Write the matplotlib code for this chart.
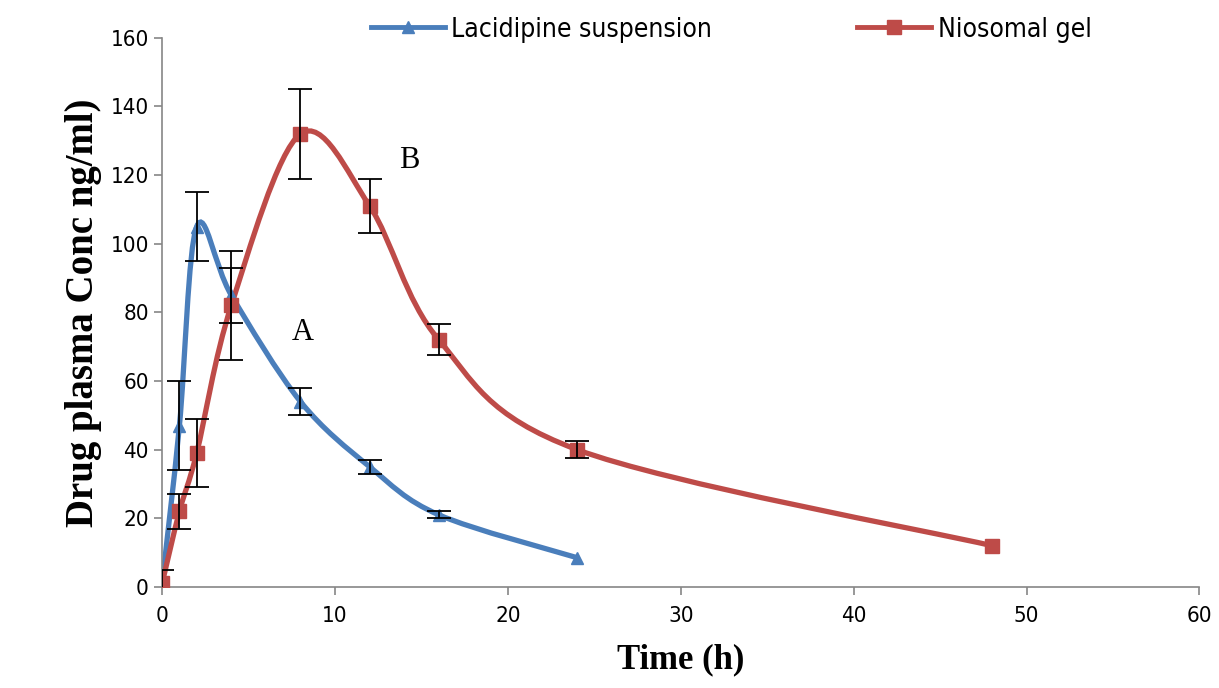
import numpy as np
import matplotlib.pyplot as plt
from matplotlib.path import Path
from matplotlib.patches import PathPatch

# Time points (h) and plasma concentrations (ng/ml)
t_susp = [0, 1, 2, 4, 8, 12, 16, 24]
c_susp = [1, 47, 105, 85, 54, 35, 21, 8.5]
e_susp = [4, 13, 10, 8, 4, 2, 1, 0]

t_gel = [0, 1, 2, 4, 8, 12, 16, 24, 48]
c_gel = [1, 22, 39, 82, 132, 111, 72, 40, 12]
e_gel = [0, 5, 10, 16, 13, 8, 4.5, 2.5, 0]

blue = '#4A7EBB'
red = '#BE4B48'
grey = '#868686'
sans = ['DejaVu Sans']


def smooth_path(x, y, tension=0.33):
    # Excel-style smoothed line: cubic Bezier segments through the points
    x = np.asarray(x, float)
    y = np.asarray(y, float)
    n = len(x)
    verts = [(x[0], y[0])]
    codes = [Path.MOVETO]
    for i in range(n - 1):
        p0 = (x[i - 1], y[i - 1]) if i > 0 else (x[i], y[i])
        p1 = (x[i], y[i])
        p2 = (x[i + 1], y[i + 1])
        p3 = (x[i + 2], y[i + 2]) if i + 2 < n else (x[i + 1], y[i + 1])
        c1 = (p1[0] + (p2[0] - p0[0]) * tension / 2, p1[1] + (p2[1] - p0[1]) * tension / 2)
        c2 = (p2[0] - (p3[0] - p1[0]) * tension / 2, p2[1] - (p3[1] - p1[1]) * tension / 2)
        verts += [c1, c2, p2]
        codes += [Path.CURVE4] * 3
    return Path(verts, codes)


fig = plt.figure(figsize=(12.19, 6.88), dpi=100)
ax = fig.add_axes([0.133, 0.147, 0.851, 0.798])

for t, c, e, col, mk, ms in [(t_susp, c_susp, e_susp, blue, '^', 9),
                             (t_gel, c_gel, e_gel, red, 's', 10)]:
    ax.add_patch(PathPatch(smooth_path(t, c), facecolor='none', edgecolor=col, lw=3.8, zorder=2))
    ax.plot(t, c, linestyle='none', marker=mk, color=col, markersize=ms, zorder=3)
    t = np.array(t, float)
    c = np.array(c, float)
    e = np.array(e, float)
    m = e > 0
    ax.errorbar(t[m], c[m], yerr=e[m], fmt='none', ecolor='black', elinewidth=1.3,
                capsize=8.5, capthick=1.3, zorder=4)

ax.set_xlim(0, 60)
ax.set_ylim(0, 160)
ax.set_xticks(range(0, 61, 10))
ax.set_yticks(range(0, 161, 20))

for s in ['top', 'right']:
    ax.spines[s].set_visible(False)
for s in ['left', 'bottom']:
    ax.spines[s].set_color(grey)
    ax.spines[s].set_linewidth(1.2)
ax.tick_params(colors=grey, length=6, width=1.2, labelcolor='black', labelsize=16)
ax.tick_params(axis='x', pad=8)
for lab in ax.get_xticklabels() + ax.get_yticklabels():
    lab.set_family(sans)
    lab.set_stretch('condensed')

ax.set_xlabel('Time (h)', fontsize=25, fontweight='bold', family='Liberation Serif', labelpad=12)
ax.set_ylabel('Drug plasma Conc ng/ml)', fontsize=28, fontweight='bold', family='Liberation Serif', labelpad=6)

ax.text(7.5, 72, 'A', fontsize=22, family='Liberation Serif')
ax.text(13.7, 122, 'B', fontsize=22, family='Liberation Serif')

h1, = ax.plot([], [], color=blue, lw=3.5, marker='^', markersize=9)
h2, = ax.plot([], [], color=red, lw=3.5, marker='s', markersize=10)
leg = fig.legend([h1, h2], ['Lacidipine suspension', 'Niosomal gel'], loc='center',
                 bbox_to_anchor=(0.6, 0.957), ncol=2, frameon=False, handlelength=2.8,
                 columnspacing=5.5, handletextpad=0.25,
                 prop={'family': sans, 'size': 19, 'stretch': 'condensed'})

fig.savefig('out.png', dpi=100)
